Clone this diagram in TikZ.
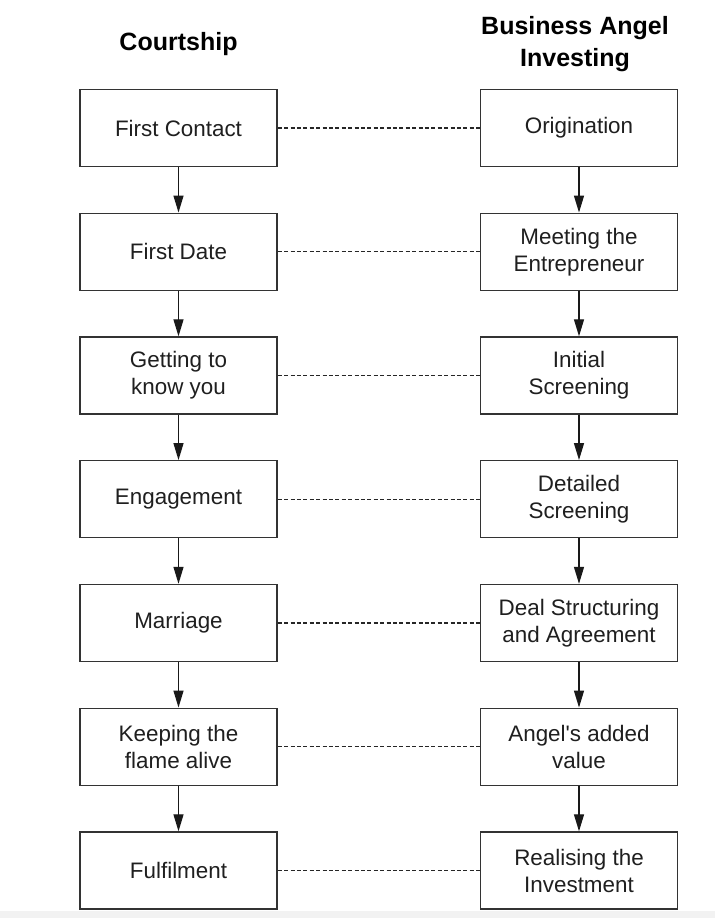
\documentclass[tikz,border=0pt]{standalone}
\usepackage{fontspec}
\setmainfont{Liberation Sans}
\usetikzlibrary{arrows.meta}
\begin{document}
\begin{tikzpicture}[x=1pt,y=-1pt,
  stagebox/.style={draw=black!80, line width=1.4pt, minimum width=197pt,
    minimum height=77pt, align=center, inner sep=0pt,
    font=\fontsize{22.4}{27}\selectfont, text=black!88},
  heading/.style={align=center, font=\fontsize{25}{31.5}\selectfont\bfseries},
  flow/.style={line width=1.3pt, draw=black!90,
    -{Triangle[length=17pt,width=10pt]}},
  pair/.style={line width=1.1pt, draw=black!85, dash pattern=on 4pt off 2.4pt}]
  \useasboundingbox (0,0) rectangle (715,918);
  \fill[white] (0,0) rectangle (715,918);
  \fill[black!5] (0,911) rectangle (715,918);

  % column headings
  \node[heading] (hl) at (178.5,44) {Courtship};
  \node[heading] (hr) at (575,44) {Business Angel\\Investing};

  % the two chains of stages
  \foreach \i/\l/\r in {
      0/{First Contact}/{Origination},
      1/{First Date}/{Meeting the\\Entrepreneur},
      2/{Getting to\\know you}/{Initial\\Screening},
      3/{Engagement}/{Detailed\\Screening},
      4/{Marriage}/{Deal Structuring\\and Agreement},
      5/{Keeping the\\flame alive}/{Angel\textquotesingle s added\\value},
      6/{Fulfilment}/{Realising the\\Investment}} {
    \node[stagebox] (l\i) at (178.5,128+123.75*\i) {\l};
    \node[stagebox] (r\i) at (579,128+123.75*\i) {\r};
    \draw[pair] (l\i.east) -- (r\i.west);
  }

  % arrows between successive stages
  \foreach \i [evaluate=\i as \j using int(\i+1)] in {0,...,5} {
    \draw[flow] (l\i.south) -- (l\j.north);
    \draw[flow] (r\i.south) -- (r\j.north);
  }
\end{tikzpicture}
\end{document}
